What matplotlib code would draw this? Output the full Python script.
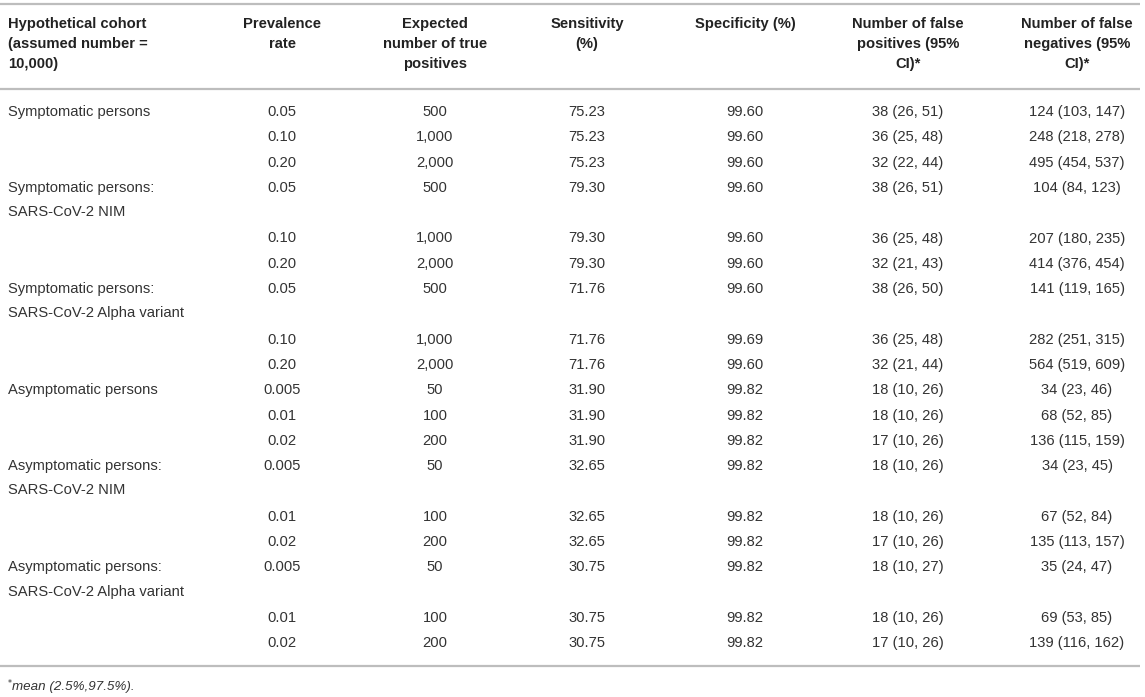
import matplotlib
matplotlib.use('Agg')
from matplotlib import pyplot as plt

# table content
header = ["Hypothetical cohort\n(assumed number =\n10,000)", "Prevalence\nrate",
          "Expected\nnumber of true\npositives", "Sensitivity\n(%)", "Specificity (%)",
          "Number of false\npositives (95%\nCI)*", "Number of false\nnegatives (95%\nCI)*"]

cohorts = ["Symptomatic persons",
           "Symptomatic persons:\nSARS-CoV-2 NIM",
           "Symptomatic persons:\nSARS-CoV-2 Alpha variant",
           "Asymptomatic persons",
           "Asymptomatic persons:\nSARS-CoV-2 NIM",
           "Asymptomatic persons:\nSARS-CoV-2 Alpha variant"]

prevalence = ["0.05", "0.10", "0.20"] * 3 + ["0.005", "0.01", "0.02"] * 3
expected = ["500", "1,000", "2,000"] * 3 + ["50", "100", "200"] * 3
sensitivity = ["75.23"] * 3 + ["79.30"] * 3 + ["71.76"] * 3 + ["31.90"] * 3 + ["32.65"] * 3 + ["30.75"] * 3
specificity = ["99.60"] * 7 + ["99.69", "99.60"] + ["99.82"] * 9
false_pos = ["38 (26, 51)", "36 (25, 48)", "32 (22, 44)",
             "38 (26, 51)", "36 (25, 48)", "32 (21, 43)",
             "38 (26, 50)", "36 (25, 48)", "32 (21, 44)",
             "18 (10, 26)", "18 (10, 26)", "17 (10, 26)",
             "18 (10, 26)", "18 (10, 26)", "17 (10, 26)",
             "18 (10, 27)", "18 (10, 26)", "17 (10, 26)"]
false_neg = ["124 (103, 147)", "248 (218, 278)", "495 (454, 537)",
             "104 (84, 123)", "207 (180, 235)", "414 (376, 454)",
             "141 (119, 165)", "282 (251, 315)", "564 (519, 609)",
             "34 (23, 46)", "68 (52, 85)", "136 (115, 159)",
             "34 (23, 45)", "67 (52, 84)", "135 (113, 157)",
             "35 (24, 47)", "69 (53, 85)", "139 (116, 162)"]

W, H = 1145, 697
plt.rcParams['font.family'] = ['Liberation Sans', 'DejaVu Sans']
fig = plt.figure(figsize=(W / 100, H / 100), dpi=100)
ax = fig.add_axes([0, 0, 1, 1])
ax.set_xlim(0, W)
ax.set_ylim(H, 0)
ax.axis('off')

fs = 10.6
txt = '#333333'
line_c = '#bdbdbd'
col_x = [8, 282, 435, 587, 745, 908, 1077]
step = 25.3

# rules
for yy in (4, 89, 666):
    ax.plot([0, 1140], [yy, yy], color=line_c, lw=1.6, solid_capstyle='butt')

# header
for i, h in enumerate(header):
    ha = 'left' if i == 0 else 'center'
    ax.text(col_x[i], 17, h, ha=ha, va='top', fontsize=fs, fontweight='bold',
            color='#222222', linespacing=1.55, multialignment=ha)

# body: a two-line cohort label pushes the next row down one line
line = 0
y0 = 112
for r in range(len(prevalence)):
    y = y0 + line * step
    if r % 3 == 0:
        parts = cohorts[r // 3].split('\n')
        for k, p in enumerate(parts):
            ax.text(col_x[0], y + k * (step - 1), p, ha='left', va='center',
                    fontsize=fs, color=txt)
        extra = len(parts) - 1
    else:
        extra = 0
    vals = [prevalence[r], expected[r], sensitivity[r], specificity[r], false_pos[r], false_neg[r]]
    for c, v in enumerate(vals):
        ax.text(col_x[c + 1], y, v, ha='center', va='center', fontsize=fs, color=txt)
    line += 1 + extra

# footnote
ax.text(7, 684, r'$^{*}$', ha='left', va='center', fontsize=fs - 2.5, color=txt)
ax.text(12, 687, 'mean (2.5%,97.5%).', ha='left', va='center', fontsize=fs - 1,
        style='italic', color=txt)

fig.savefig('out.png', dpi=100)
